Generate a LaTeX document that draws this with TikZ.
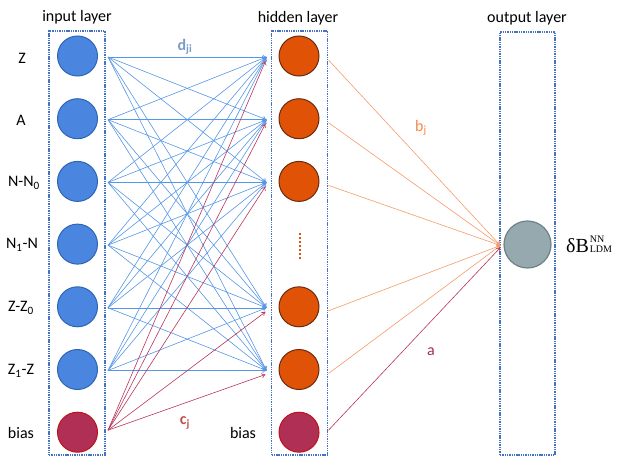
\documentclass[tikz,border=0pt]{standalone}
\usepackage{fontspec}
\setmainfont{Carlito}
\newfontfamily\tnr{Liberation Serif}
\usetikzlibrary{arrows.meta}
\definecolor{inblue}{HTML}{4A86E0}
\definecolor{inblueb}{HTML}{2E64B4}
\definecolor{hidor}{HTML}{E05206}
\definecolor{hidorb}{HTML}{6B2A10}
\definecolor{biasf}{HTML}{B03055}
\definecolor{biasb}{HTML}{C0101A}
\definecolor{outf}{HTML}{95A9AE}
\definecolor{outb}{HTML}{6E8286}
\definecolor{arrblue}{HTML}{5596E6}
\definecolor{arrred}{HTML}{B8365A}
\definecolor{arror}{HTML}{F59A6A}
\definecolor{boxblue}{HTML}{4472C4}
\definecolor{dlab}{HTML}{7A9CC8}
\definecolor{blab}{HTML}{F4884A}
\definecolor{clab}{HTML}{C0504D}
\definecolor{alab}{HTML}{A0304A}
\tikzset{
  neuron/.style={circle, minimum size=40pt, inner sep=0pt, line width=1pt},
  inneuron/.style={neuron, fill=inblue, draw=inblueb},
  hidneuron/.style={neuron, fill=hidor, draw=hidorb},
  biasneuron/.style={neuron, fill=biasf, draw=biasb},
  outneuron/.style={circle, minimum size=47pt, inner sep=0pt, line width=1.2pt, fill=outf, draw=outb},
  layerbox/.style={draw=boxblue, line width=1.7pt, dash pattern=on 1.4pt off 0.9pt, minimum width=56pt, minimum height=424pt, inner sep=0pt},
  lab/.style={font=\fontsize{16}{18}\selectfont, inner sep=0pt},
  tiparr/.style={-{To[length=4pt,width=5pt]}},
  bluearr/.style={tiparr, draw=arrblue, line width=0.6pt},
  redarr/.style={tiparr, draw=arrred, line width=0.6pt},
  orarr/.style={tiparr, draw=arror, line width=0.6pt},
}
\begin{document}
\begin{tikzpicture}[x=1pt,y=-1pt]
\useasboundingbox (0,0) rectangle (628,458);
% layer boxes
\node[layerbox] (ibox) at (77,243) {};
\node[layerbox] (hbox) at (299.5,243) {};
\node[layerbox, minimum width=55pt, minimum height=423pt] (obox) at (527.5,243.5) {};
% titles
\node[lab] (tin) at (77,17) {input layer};
\node[lab] (thid) at (298,18) {hidden layer};
\node[lab] (tout) at (527,18) {output layer};
% input neurons
\foreach \k/\y in {1/56,2/118.7,3/181.4,4/244.1,5/306.8,6/369.5}{
  \node[inneuron] (i\k) at (77.5,\y) {};
}
\node[biasneuron] (i7) at (77.5,432.2) {};
% hidden neurons
\foreach \k/\y in {1/56,2/118.7,3/181.4,5/306.8,6/369.5}{
  \node[hidneuron] (h\k) at (299,\y) {};
}
\node[biasneuron] (h7) at (299,432.2) {};
% output neuron
\node[outneuron] (o) at (527.5,244.5) {};
% input labels
\node[lab] (l1) at (22,58) {Z};
\node[lab] (l2) at (21,120) {A};
\node[lab] (l3) at (24,183) {N-N\textsubscript{0}};
\node[lab] (l4) at (22,245) {N\textsubscript{1}-N};
\node[lab] (l5) at (21,308) {Z-Z\textsubscript{0}};
\node[lab] (l6) at (21,371) {Z\textsubscript{1}-Z};
\node[lab] (l7) at (21,433) {bias};
\node[lab] (lh7) at (243,433) {bias};
\node[inner sep=0pt, anchor=base west] (lo) at (566,252) {\tnr\fontsize{20}{22}\selectfont δB};
\node[inner sep=0pt, anchor=west, align=left, font=\tnr\fontsize{10}{10.5}\selectfont] (loi) at ([xshift=0.5pt,yshift=1pt]lo.east) {NN\\LDM};
% blue arrows input -> hidden
\foreach \a in {1,...,6}{
  \foreach \b in {1,2,3,5,6}{
    \draw[bluearr] ([xshift=10pt,yshift=-1pt]i\a.east) -- ([xshift=-12pt,yshift=-1pt]h\b.west);
  }
}
% red arrows bias -> hidden
\foreach \b in {1,2,3,5,6}{
  \draw[redarr] ([xshift=10pt,yshift=2pt]i7.east) -- ([xshift=-13pt,yshift=-5pt]h\b.west);
}
% hidden dots
\coordinate (d1) at (300,233);
\coordinate (d2) at (300,260);
\draw[draw=hidor, line width=1.5pt, dash pattern=on 1.5pt off 2.5pt] (d1) -- (d2);
% hidden -> output
\foreach \b in {1,2,3,5,6}{
  \draw[orarr] ([xshift=9pt,yshift=-4pt]h\b.east) -- ([xshift=-3pt,yshift=-1pt]o.west);
}
\draw[redarr] ([xshift=9pt,yshift=2pt]h7.east) -- ([xshift=-3pt,yshift=-3pt]o.west);
% weight labels
\node[inner sep=0pt, text=dlab, font=\fontsize{16}{18}\selectfont\bfseries] (wd) at (185,47) {d\textsubscript{ji}};
\node[inner sep=0pt, text=blab, font=\fontsize{16}{18}\selectfont] (wb) at (421,128) {b\textsubscript{j}};
\node[inner sep=0pt, text=clab, font=\fontsize{16}{18}\selectfont\bfseries] (wc) at (185,423) {c\textsubscript{j}};
\node[inner sep=0pt, text=alab, font=\fontsize{16}{18}\selectfont] (wa) at (431,352) {a};
\end{tikzpicture}
\end{document}
